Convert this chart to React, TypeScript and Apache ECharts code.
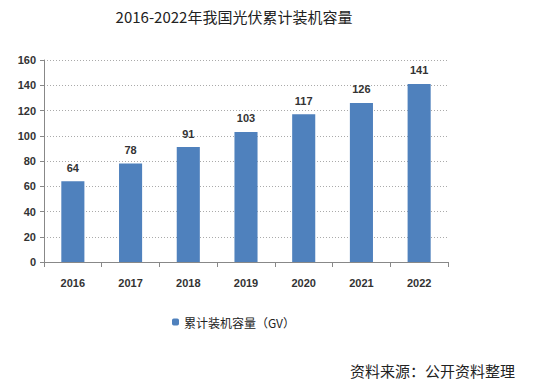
import React, { useEffect, useRef } from "react";
import * as echarts from "echarts";

const categories = ["2016", "2017", "2018", "2019", "2020", "2021", "2022"];
const values = [64, 78, 91, 103, 117, 126, 141];
const yTicks = [0, 20, 40, 60, 80, 100, 120, 140, 160];
const seriesName = "累计装机容量（GV）";
const titleText = "2016-2022年我国光伏累计装机容量";
const sourceText = "资料来源：公开资料整理";

export default function App() {
  const ref = useRef<HTMLDivElement>(null);
  useEffect(() => {
    const chart = echarts.init(ref.current!, undefined, { renderer: "svg" });
    chart.setOption({
      animation: false,
      backgroundColor: "#ffffff",
      title: {
        text: titleText,
        left: 229,
        textAlign: "center",
        top: 4,
        textStyle: {
          fontFamily: "'Noto Sans CJK SC', serif",
          fontWeight: "normal",
          fontSize: 15,
          color: "#222",
        },
      },
      graphic: [
        {
          type: "text",
          right: 30,
          top: 363,
          style: {
            text: sourceText,
            font: "15px 'Noto Sans CJK SC', serif",
            fill: "#222",
          },
        },
      ],
      legend: {
        data: [seriesName],
        left: 167,
        top: 311,
        itemWidth: 7,
        itemHeight: 7,
        itemGap: 5,
        textStyle: {
          fontFamily: "'Noto Sans CJK SC', sans-serif",
          fontSize: 12,
          color: "#222",
        },
      },
      grid: { left: 44, right: 97, top: 60, bottom: 122, containLabel: false },
      xAxis: {
        type: "category",
        data: categories,
        axisLine: { lineStyle: { color: "#888" } },
        axisTick: { show: true, alignWithLabel: false, length: 5, lineStyle: { color: "#888" } },
        axisLabel: {
          margin: 15,
          fontFamily: "'Liberation Sans', sans-serif",
          fontSize: 11,
          fontWeight: "bold",
          color: "#333",
        },
      },
      yAxis: {
        type: "value",
        min: 0,
        max: 160,
        interval: 20,
        axisLine: { show: true, lineStyle: { color: "#888" } },
        axisTick: { show: true, length: 4, lineStyle: { color: "#888" } },
        splitLine: { lineStyle: { color: "#aaa", type: [1, 2] } },
        axisLabel: {
          margin: 8,
          fontFamily: "'Liberation Sans', sans-serif",
          fontSize: 11,
          fontWeight: "bold",
          color: "#333",
          formatter: (v: number) => (yTicks.includes(v) ? String(v) : ""),
        },
      },
      series: [
        {
          name: seriesName,
          type: "bar",
          data: values,
          barWidth: "40%",
          itemStyle: { color: "#4F81BD" },
          label: {
            show: true,
            position: "top",
            distance: 8,
            fontFamily: "'Liberation Sans', sans-serif",
            fontSize: 11,
            fontWeight: "bold",
            color: "#333",
          },
        },
      ],
    });
    return () => chart.dispose();
  }, []);
  return <div ref={ref} style={{ width: 545, height: 384, position: "absolute", left: 0, top: 0 }} />;
}
